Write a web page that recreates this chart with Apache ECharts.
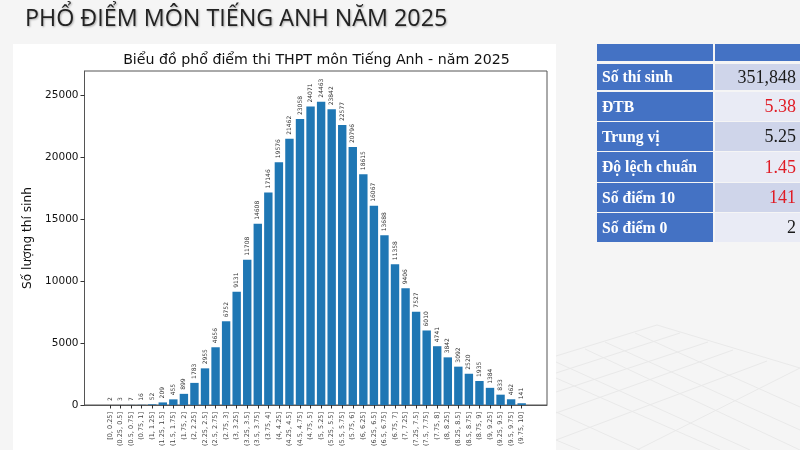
<!DOCTYPE html>
<html>
<head>
<meta charset="utf-8">
<style>
  html, body { margin: 0; padding: 0; background: #f5f5f5; }
  #chart { width: 800px; height: 450px; }
</style>
<script src="https://cdn.jsdelivr.net/npm/echarts@6/dist/echarts.min.js"></script>
</head>
<body>
<div id="chart"></div>
<script>
const tickLabels = [
  "[0, 0.25]", "(0.25, 0.5]", "(0.5, 0.75]", "(0.75, 1]", "(1, 1.25]",
  "(1.25, 1.5]", "(1.5, 1.75]", "(1.75, 2]", "(2, 2.25]", "(2.25, 2.5]",
  "(2.5, 2.75]", "(2.75, 3]", "(3, 3.25]", "(3.25, 3.5]", "(3.5, 3.75]",
  "(3.75, 4]", "(4, 4.25]", "(4.25, 4.5]", "(4.5, 4.75]", "(4.75, 5]",
  "(5, 5.25]", "(5.25, 5.5]", "(5.5, 5.75]", "(5.75, 6]", "(6, 6.25]",
  "(6.25, 6.5]", "(6.5, 6.75]", "(6.75, 7]", "(7, 7.25]", "(7.25, 7.5]",
  "(7.5, 7.75]", "(7.75, 8]", "(8, 8.25]", "(8.25, 8.5]", "(8.5, 8.75]",
  "(8.75, 9]", "(9, 9.25]", "(9.25, 9.5]", "(9.5, 9.75]", "(9.75, 10]"
];
const counts = [
  2, 3, 7, 16, 52, 209, 455, 899, 1783, 2955,
  4656, 6752, 9131, 11708, 14608, 17146, 19576, 21462, 23058, 24071,
  24463, 23842, 22577, 20796, 18615, 16067, 13688, 11358, 9406, 7527,
  6010, 4741, 3842, 3092, 2520, 1935, 1384, 833, 462, 141
];
const yTicks = [0, 5000, 10000, 15000, 20000, 25000];
const statNames = ["Số thí sinh", "ĐTB", "Trung vị", "Độ lệch chuẩn", "Số điểm 10", "Số điểm 0"];
const statValues = ["351,848", "5.38", "5.25", "1.45", "141", "2"];
const statIsRed = [false, true, false, true, true, false];

// table row tops/heights, measured from the slide
const ROW_Y = [64, 92, 122, 152, 183, 213];
const ROW_H = [26, 29, 29, 30, 29, 29];

// faint perspective floor behind the slide, decoration only
const FLOOR_LINES = [
  [657, 325, 800, 368], [635, 333, 800, 407], [605, 342, 800, 430], [585, 349, 800, 450],
  [556, 362, 750, 450], [556, 378, 720, 450], [556, 412, 640, 450], [556, 440, 580, 450],
  [657, 325, 556, 356], [680, 333, 556, 373], [708, 342, 556, 392], [733, 350, 556, 413],
  [767, 361, 556, 440], [800, 368, 637, 450]
];

function bgElements() {
  const els = [
    { type: "rect", z: -10, shape: { x: 13, y: 44, width: 543, height: 406 }, style: { fill: "#ffffff" } }
  ];
  for (const p of FLOOR_LINES) {
    els.push({
      type: "line",
      z: -9,
      shape: { x1: p[0], y1: p[1], x2: p[2], y2: p[3] },
      style: { stroke: "#e9e9e9", lineWidth: 1 }
    });
  }
  return els;
}

function tableElements() {
  const els = [
    { type: "rect", shape: { x: 597, y: 44, width: 116, height: 17 }, style: { fill: "#4472c4" } },
    { type: "rect", shape: { x: 715, y: 44, width: 85, height: 17 }, style: { fill: "#4472c4" } }
  ];
  statNames.forEach((name, i) => {
    els.push({
      type: "rect",
      shape: { x: 597, y: ROW_Y[i], width: 116, height: ROW_H[i] },
      style: { fill: "#4472c4" }
    });
    els.push({
      type: "rect",
      shape: { x: 715, y: ROW_Y[i], width: 85, height: ROW_H[i] },
      style: { fill: i % 2 === 0 ? "#cfd5ea" : "#e9ebf5" }
    });
    els.push({
      type: "text",
      z: 5,
      style: {
        x: 602,
        y: ROW_Y[i] + ROW_H[i] / 2 + 1,
        text: name,
        fill: "#ffffff",
        font: "bold 15.7px 'Liberation Serif'",
        verticalAlign: "middle"
      }
    });
    els.push({
      type: "text",
      z: 5,
      style: {
        x: 796,
        y: ROW_Y[i] + ROW_H[i] / 2 + 1,
        text: statValues[i],
        fill: statIsRed[i] ? "#e01b24" : "#1a1a1a",
        font: "18px 'Liberation Serif'",
        align: "right",
        verticalAlign: "middle"
      }
    });
  });
  return els;
}

const chart = echarts.init(document.getElementById("chart"), null, { renderer: "canvas" });
chart.setOption({
  backgroundColor: "#f5f5f5",
  animation: false,
  textStyle: { fontFamily: "DejaVu Sans" },
  title: [
    {
      text: "PHỔ ĐIỂM MÔN TIẾNG ANH NĂM 2025",
      left: 20,
      top: 3,
      textStyle: {
        fontFamily: "Open Sans",
        fontSize: 23.3,
        fontWeight: "normal",
        color: "#222222",
        textShadowColor: "rgba(0,0,0,0.3)",
        textShadowBlur: 2,
        textShadowOffsetX: 1,
        textShadowOffsetY: 1
      }
    },
    {
      text: "Biểu đồ phổ điểm thi THPT môn Tiếng Anh - năm 2025",
      left: 311.5,
      top: 48,
      textAlign: "center",
      textStyle: { fontFamily: "DejaVu Sans", fontSize: 14.2, fontWeight: "normal", color: "#111111" }
    }
  ],
  grid: {
    left: 84.5,
    right: 253,
    top: 71,
    bottom: 45,
    outerBoundsMode: "none",
    show: true,
    borderColor: "#555555",
    borderWidth: 1,
    backgroundColor: "transparent"
  },
  xAxis: {
    type: "value",
    min: -2.416,
    max: 41.4,
    splitLine: { show: false },
    axisLine: { lineStyle: { color: "#555555" } },
    axisTick: { customValues: tickLabels.map((_, i) => i), length: 3.5, lineStyle: { color: "#333333" } },
    axisLabel: {
      customValues: tickLabels.map((_, i) => i),
      formatter: (v) => tickLabels[v],
      rotate: 90,
      fontSize: 6.5,
      color: "#444444",
      margin: 7
    }
  },
  yAxis: {
    type: "value",
    min: 0,
    max: 26935,
    name: "Số lượng thí sinh",
    nameLocation: "middle",
    nameGap: 47,
    nameTextStyle: { fontSize: 12.2, color: "#111111" },
    splitLine: { show: false },
    axisLine: { show: true, onZero: false, lineStyle: { color: "#555555" } },
    axisTick: { show: true, customValues: yTicks, length: 4, lineStyle: { color: "#333333" } },
    axisLabel: { customValues: yTicks, formatter: (v) => String(v), fontSize: 10.5, color: "#111111", margin: 6 }
  },
  series: [
    {
      type: "bar",
      barWidth: 8.4,
      itemStyle: { color: "#1f77b4" },
      label: {
        show: true,
        position: "top",
        rotate: 90,
        align: "left",
        verticalAlign: "middle",
        distance: 4,
        fontSize: 6,
        color: "#333333"
      },
      data: counts.map((v, i) => ({ value: [i, v], label: { formatter: String(v) } }))
    }
  ],
  graphic: bgElements().concat(tableElements())
});
</script>
</body>
</html>
